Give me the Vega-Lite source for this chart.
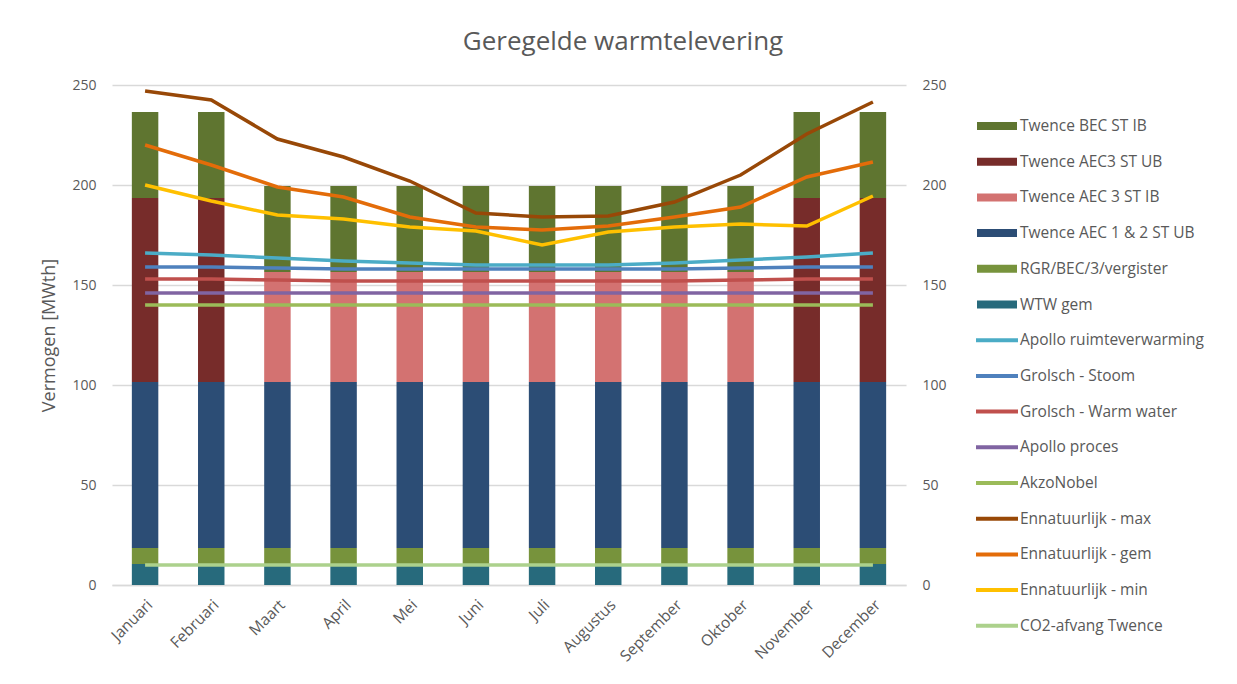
{
  "$schema": "https://vega.github.io/schema/vega-lite/v6.json",
  "width": 794,
  "height": 500,
  "autosize": "none",
  "padding": {"left": 112, "top": 85, "right": 331, "bottom": 99},
  "background": "white",
  "title": {
    "text": "Geregelde warmtelevering",
    "anchor": "middle",
    "dx": 114,
    "offset": 23,
    "font": "Open Sans",
    "fontSize": 26,
    "fontWeight": "normal",
    "color": "#595959"
  },
  "datasets": {
    "bars": [
      {"maand": "Januari", "series": "WTW gem", "waarde": 10.5},
      {"maand": "Januari", "series": "RGR/BEC/3/vergister", "waarde": 8},
      {"maand": "Januari", "series": "Twence AEC 1 & 2 ST UB", "waarde": 83},
      {"maand": "Januari", "series": "Twence AEC3 ST UB", "waarde": 92},
      {"maand": "Januari", "series": "Twence BEC ST IB", "waarde": 43},
      {"maand": "Februari", "series": "WTW gem", "waarde": 10.5},
      {"maand": "Februari", "series": "RGR/BEC/3/vergister", "waarde": 8},
      {"maand": "Februari", "series": "Twence AEC 1 & 2 ST UB", "waarde": 83},
      {"maand": "Februari", "series": "Twence AEC3 ST UB", "waarde": 92},
      {"maand": "Februari", "series": "Twence BEC ST IB", "waarde": 43},
      {"maand": "Maart", "series": "WTW gem", "waarde": 10.5},
      {"maand": "Maart", "series": "RGR/BEC/3/vergister", "waarde": 8},
      {"maand": "Maart", "series": "Twence AEC 1 & 2 ST UB", "waarde": 83},
      {"maand": "Maart", "series": "Twence AEC 3 ST IB", "waarde": 55},
      {"maand": "Maart", "series": "Twence BEC ST IB", "waarde": 43},
      {"maand": "April", "series": "WTW gem", "waarde": 10.5},
      {"maand": "April", "series": "RGR/BEC/3/vergister", "waarde": 8},
      {"maand": "April", "series": "Twence AEC 1 & 2 ST UB", "waarde": 83},
      {"maand": "April", "series": "Twence AEC 3 ST IB", "waarde": 55},
      {"maand": "April", "series": "Twence BEC ST IB", "waarde": 43},
      {"maand": "Mei", "series": "WTW gem", "waarde": 10.5},
      {"maand": "Mei", "series": "RGR/BEC/3/vergister", "waarde": 8},
      {"maand": "Mei", "series": "Twence AEC 1 & 2 ST UB", "waarde": 83},
      {"maand": "Mei", "series": "Twence AEC 3 ST IB", "waarde": 55},
      {"maand": "Mei", "series": "Twence BEC ST IB", "waarde": 43},
      {"maand": "Juni", "series": "WTW gem", "waarde": 10.5},
      {"maand": "Juni", "series": "RGR/BEC/3/vergister", "waarde": 8},
      {"maand": "Juni", "series": "Twence AEC 1 & 2 ST UB", "waarde": 83},
      {"maand": "Juni", "series": "Twence AEC 3 ST IB", "waarde": 55},
      {"maand": "Juni", "series": "Twence BEC ST IB", "waarde": 43},
      {"maand": "Juli", "series": "WTW gem", "waarde": 10.5},
      {"maand": "Juli", "series": "RGR/BEC/3/vergister", "waarde": 8},
      {"maand": "Juli", "series": "Twence AEC 1 & 2 ST UB", "waarde": 83},
      {"maand": "Juli", "series": "Twence AEC 3 ST IB", "waarde": 55},
      {"maand": "Juli", "series": "Twence BEC ST IB", "waarde": 43},
      {"maand": "Augustus", "series": "WTW gem", "waarde": 10.5},
      {"maand": "Augustus", "series": "RGR/BEC/3/vergister", "waarde": 8},
      {"maand": "Augustus", "series": "Twence AEC 1 & 2 ST UB", "waarde": 83},
      {"maand": "Augustus", "series": "Twence AEC 3 ST IB", "waarde": 55},
      {"maand": "Augustus", "series": "Twence BEC ST IB", "waarde": 43},
      {"maand": "September", "series": "WTW gem", "waarde": 10.5},
      {"maand": "September", "series": "RGR/BEC/3/vergister", "waarde": 8},
      {"maand": "September", "series": "Twence AEC 1 & 2 ST UB", "waarde": 83},
      {"maand": "September", "series": "Twence AEC 3 ST IB", "waarde": 55},
      {"maand": "September", "series": "Twence BEC ST IB", "waarde": 43},
      {"maand": "Oktober", "series": "WTW gem", "waarde": 10.5},
      {"maand": "Oktober", "series": "RGR/BEC/3/vergister", "waarde": 8},
      {"maand": "Oktober", "series": "Twence AEC 1 & 2 ST UB", "waarde": 83},
      {"maand": "Oktober", "series": "Twence AEC 3 ST IB", "waarde": 55},
      {"maand": "Oktober", "series": "Twence BEC ST IB", "waarde": 43},
      {"maand": "November", "series": "WTW gem", "waarde": 10.5},
      {"maand": "November", "series": "RGR/BEC/3/vergister", "waarde": 8},
      {"maand": "November", "series": "Twence AEC 1 & 2 ST UB", "waarde": 83},
      {"maand": "November", "series": "Twence AEC3 ST UB", "waarde": 92},
      {"maand": "November", "series": "Twence BEC ST IB", "waarde": 43},
      {"maand": "December", "series": "WTW gem", "waarde": 10.5},
      {"maand": "December", "series": "RGR/BEC/3/vergister", "waarde": 8},
      {"maand": "December", "series": "Twence AEC 1 & 2 ST UB", "waarde": 83},
      {"maand": "December", "series": "Twence AEC3 ST UB", "waarde": 92},
      {"maand": "December", "series": "Twence BEC ST IB", "waarde": 43}
    ],
    "lines": [
      {"maand": "Januari", "series": "Apollo ruimteverwarming", "waarde": 166},
      {"maand": "Februari", "series": "Apollo ruimteverwarming", "waarde": 165},
      {"maand": "Maart", "series": "Apollo ruimteverwarming", "waarde": 163.5},
      {"maand": "April", "series": "Apollo ruimteverwarming", "waarde": 162},
      {"maand": "Mei", "series": "Apollo ruimteverwarming", "waarde": 161},
      {"maand": "Juni", "series": "Apollo ruimteverwarming", "waarde": 160},
      {"maand": "Juli", "series": "Apollo ruimteverwarming", "waarde": 160},
      {"maand": "Augustus", "series": "Apollo ruimteverwarming", "waarde": 160},
      {"maand": "September", "series": "Apollo ruimteverwarming", "waarde": 161},
      {"maand": "Oktober", "series": "Apollo ruimteverwarming", "waarde": 162.5},
      {"maand": "November", "series": "Apollo ruimteverwarming", "waarde": 164},
      {"maand": "December", "series": "Apollo ruimteverwarming", "waarde": 166},
      {"maand": "Januari", "series": "Grolsch - Stoom", "waarde": 159},
      {"maand": "Februari", "series": "Grolsch - Stoom", "waarde": 159},
      {"maand": "Maart", "series": "Grolsch - Stoom", "waarde": 158.5},
      {"maand": "April", "series": "Grolsch - Stoom", "waarde": 158},
      {"maand": "Mei", "series": "Grolsch - Stoom", "waarde": 158},
      {"maand": "Juni", "series": "Grolsch - Stoom", "waarde": 158},
      {"maand": "Juli", "series": "Grolsch - Stoom", "waarde": 158},
      {"maand": "Augustus", "series": "Grolsch - Stoom", "waarde": 158},
      {"maand": "September", "series": "Grolsch - Stoom", "waarde": 158},
      {"maand": "Oktober", "series": "Grolsch - Stoom", "waarde": 158.5},
      {"maand": "November", "series": "Grolsch - Stoom", "waarde": 159},
      {"maand": "December", "series": "Grolsch - Stoom", "waarde": 159},
      {"maand": "Januari", "series": "Grolsch - Warm water", "waarde": 153},
      {"maand": "Februari", "series": "Grolsch - Warm water", "waarde": 153},
      {"maand": "Maart", "series": "Grolsch - Warm water", "waarde": 152.5},
      {"maand": "April", "series": "Grolsch - Warm water", "waarde": 152},
      {"maand": "Mei", "series": "Grolsch - Warm water", "waarde": 152},
      {"maand": "Juni", "series": "Grolsch - Warm water", "waarde": 152},
      {"maand": "Juli", "series": "Grolsch - Warm water", "waarde": 152},
      {"maand": "Augustus", "series": "Grolsch - Warm water", "waarde": 152},
      {"maand": "September", "series": "Grolsch - Warm water", "waarde": 152},
      {"maand": "Oktober", "series": "Grolsch - Warm water", "waarde": 152.5},
      {"maand": "November", "series": "Grolsch - Warm water", "waarde": 153},
      {"maand": "December", "series": "Grolsch - Warm water", "waarde": 153},
      {"maand": "Januari", "series": "Apollo proces", "waarde": 146},
      {"maand": "Februari", "series": "Apollo proces", "waarde": 146},
      {"maand": "Maart", "series": "Apollo proces", "waarde": 146},
      {"maand": "April", "series": "Apollo proces", "waarde": 146},
      {"maand": "Mei", "series": "Apollo proces", "waarde": 146},
      {"maand": "Juni", "series": "Apollo proces", "waarde": 146},
      {"maand": "Juli", "series": "Apollo proces", "waarde": 146},
      {"maand": "Augustus", "series": "Apollo proces", "waarde": 146},
      {"maand": "September", "series": "Apollo proces", "waarde": 146},
      {"maand": "Oktober", "series": "Apollo proces", "waarde": 146},
      {"maand": "November", "series": "Apollo proces", "waarde": 146},
      {"maand": "December", "series": "Apollo proces", "waarde": 146},
      {"maand": "Januari", "series": "AkzoNobel", "waarde": 140},
      {"maand": "Februari", "series": "AkzoNobel", "waarde": 140},
      {"maand": "Maart", "series": "AkzoNobel", "waarde": 140},
      {"maand": "April", "series": "AkzoNobel", "waarde": 140},
      {"maand": "Mei", "series": "AkzoNobel", "waarde": 140},
      {"maand": "Juni", "series": "AkzoNobel", "waarde": 140},
      {"maand": "Juli", "series": "AkzoNobel", "waarde": 140},
      {"maand": "Augustus", "series": "AkzoNobel", "waarde": 140},
      {"maand": "September", "series": "AkzoNobel", "waarde": 140},
      {"maand": "Oktober", "series": "AkzoNobel", "waarde": 140},
      {"maand": "November", "series": "AkzoNobel", "waarde": 140},
      {"maand": "December", "series": "AkzoNobel", "waarde": 140},
      {"maand": "Januari", "series": "Ennatuurlijk - max", "waarde": 247},
      {"maand": "Februari", "series": "Ennatuurlijk - max", "waarde": 242.5},
      {"maand": "Maart", "series": "Ennatuurlijk - max", "waarde": 223},
      {"maand": "April", "series": "Ennatuurlijk - max", "waarde": 214},
      {"maand": "Mei", "series": "Ennatuurlijk - max", "waarde": 202},
      {"maand": "Juni", "series": "Ennatuurlijk - max", "waarde": 186},
      {"maand": "Juli", "series": "Ennatuurlijk - max", "waarde": 184},
      {"maand": "Augustus", "series": "Ennatuurlijk - max", "waarde": 184.5},
      {"maand": "September", "series": "Ennatuurlijk - max", "waarde": 191.5},
      {"maand": "Oktober", "series": "Ennatuurlijk - max", "waarde": 205},
      {"maand": "November", "series": "Ennatuurlijk - max", "waarde": 225.5},
      {"maand": "December", "series": "Ennatuurlijk - max", "waarde": 241.5},
      {"maand": "Januari", "series": "Ennatuurlijk - gem", "waarde": 220},
      {"maand": "Februari", "series": "Ennatuurlijk - gem", "waarde": 210},
      {"maand": "Maart", "series": "Ennatuurlijk - gem", "waarde": 199},
      {"maand": "April", "series": "Ennatuurlijk - gem", "waarde": 194},
      {"maand": "Mei", "series": "Ennatuurlijk - gem", "waarde": 184},
      {"maand": "Juni", "series": "Ennatuurlijk - gem", "waarde": 179},
      {"maand": "Juli", "series": "Ennatuurlijk - gem", "waarde": 177.5},
      {"maand": "Augustus", "series": "Ennatuurlijk - gem", "waarde": 179.5},
      {"maand": "September", "series": "Ennatuurlijk - gem", "waarde": 184},
      {"maand": "Oktober", "series": "Ennatuurlijk - gem", "waarde": 189},
      {"maand": "November", "series": "Ennatuurlijk - gem", "waarde": 204},
      {"maand": "December", "series": "Ennatuurlijk - gem", "waarde": 211.5},
      {"maand": "Januari", "series": "Ennatuurlijk - min", "waarde": 200},
      {"maand": "Februari", "series": "Ennatuurlijk - min", "waarde": 192},
      {"maand": "Maart", "series": "Ennatuurlijk - min", "waarde": 185},
      {"maand": "April", "series": "Ennatuurlijk - min", "waarde": 183},
      {"maand": "Mei", "series": "Ennatuurlijk - min", "waarde": 179},
      {"maand": "Juni", "series": "Ennatuurlijk - min", "waarde": 177},
      {"maand": "Juli", "series": "Ennatuurlijk - min", "waarde": 170},
      {"maand": "Augustus", "series": "Ennatuurlijk - min", "waarde": 176.5},
      {"maand": "September", "series": "Ennatuurlijk - min", "waarde": 179},
      {"maand": "Oktober", "series": "Ennatuurlijk - min", "waarde": 180.5},
      {"maand": "November", "series": "Ennatuurlijk - min", "waarde": 179.5},
      {"maand": "December", "series": "Ennatuurlijk - min", "waarde": 194.5},
      {"maand": "Januari", "series": "CO2-afvang Twence", "waarde": 10},
      {"maand": "Februari", "series": "CO2-afvang Twence", "waarde": 10},
      {"maand": "Maart", "series": "CO2-afvang Twence", "waarde": 10},
      {"maand": "April", "series": "CO2-afvang Twence", "waarde": 10},
      {"maand": "Mei", "series": "CO2-afvang Twence", "waarde": 10},
      {"maand": "Juni", "series": "CO2-afvang Twence", "waarde": 10},
      {"maand": "Juli", "series": "CO2-afvang Twence", "waarde": 10},
      {"maand": "Augustus", "series": "CO2-afvang Twence", "waarde": 10},
      {"maand": "September", "series": "CO2-afvang Twence", "waarde": 10},
      {"maand": "Oktober", "series": "CO2-afvang Twence", "waarde": 10},
      {"maand": "November", "series": "CO2-afvang Twence", "waarde": 10},
      {"maand": "December", "series": "CO2-afvang Twence", "waarde": 10}
    ]
  },
  "encoding": {
    "x": {
      "field": "maand",
      "type": "nominal",
      "sort": ["Januari", "Februari", "Maart", "April", "Mei", "Juni", "Juli", "Augustus", "September", "Oktober", "November", "December"],
      "scale": {"paddingInner": 0.6, "paddingOuter": 0.3},
      "axis": {
        "title": null,
        "labelAngle": -45,
        "labelFont": "Open Sans",
        "labelFontSize": 15.5,
        "labelColor": "#595959",
        "labelPadding": 12,
        "ticks": false,
        "domainColor": "#d9d9d9",
        "domainWidth": 1.5,
        "grid": false
      }
    },
    "color": {
      "field": "series",
      "type": "nominal",
      "scale": {
        "domain": ["Twence BEC ST IB", "Twence AEC3 ST UB", "Twence AEC 3 ST IB", "Twence AEC 1 & 2 ST UB", "RGR/BEC/3/vergister", "WTW gem", "Apollo ruimteverwarming", "Grolsch - Stoom", "Grolsch - Warm water", "Apollo proces", "AkzoNobel", "Ennatuurlijk - max", "Ennatuurlijk - gem", "Ennatuurlijk - min", "CO2-afvang Twence"],
        "range": ["#5f7530", "#772c2a", "#d37271", "#2c4d75", "#77933c", "#276a7c", "#4bacc6", "#4f81bd", "#c0504d", "#8064a2", "#9bbb59", "#984807", "#e36c09", "#ffc000", "#acd18c"]
      },
      "legend": {
        "title": null,
        "orient": "none",
        "legendX": 863,
        "legendY": 19,
        "labelFont": "Open Sans",
        "labelFontSize": 15.5,
        "labelColor": "#595959",
        "labelOffset": 1,
        "labelLimit": 300,
        "rowPadding": 3.7,
        "symbolSize": 1600,
        "symbolStrokeWidth": 4,
        "padding": 0,
        "encode": {
          "symbols": {
            "update": {
              "shape": {"signal": "indexof(['Twence BEC ST IB','Twence AEC3 ST UB','Twence AEC 3 ST IB','Twence AEC 1 & 2 ST UB','RGR/BEC/3/vergister','WTW gem'], datum.value) >= 0 ? 'M-0.9,-0.1H0.9V0.1H-0.9Z' : 'M0,-0.1M0,0.1M-1.05,0H1.05'"},
              "fill": {"signal": "scale('color', datum.value)"},
              "stroke": {"signal": "scale('color', datum.value)"},
              "strokeWidth": {"value": 4},
              "opacity": {"value": 1}
            }
          }
        }
      }
    }
  },
  "layer": [
    {
      "data": {"name": "bars"},
      "transform": [
        {"calculate": "indexof(['WTW gem','RGR/BEC/3/vergister','Twence AEC 1 & 2 ST UB','Twence AEC 3 ST IB','Twence AEC3 ST UB','Twence BEC ST IB'], datum.series)", "as": "stapel"}
      ],
      "mark": {"type": "bar"},
      "encoding": {
        "y": {
          "field": "waarde",
          "type": "quantitative",
          "stack": "zero",
          "scale": {"domain": [0, 250], "nice": false},
          "axis": {
            "title": "Vermogen [MWth]",
            "titleFont": "Open Sans",
            "titleFontSize": 18,
            "titleFontWeight": "normal",
            "titleColor": "#595959",
            "titlePadding": 13,
            "values": [0, 50, 100, 150, 200, 250],
            "labelFont": "Open Sans",
            "labelFontSize": 14,
            "labelColor": "#595959",
            "labelPadding": 16,
            "ticks": false,
            "domain": false,
            "grid": true,
            "gridColor": "#d9d9d9",
            "gridWidth": 1.5
          }
        },
        "order": {"field": "stapel", "type": "quantitative"}
      }
    },
    {
      "data": {"name": "lines"},
      "mark": {"type": "line", "strokeWidth": 3.5, "interpolate": "linear"},
      "encoding": {
        "y": {
          "field": "waarde",
          "type": "quantitative",
          "axis": {
            "orient": "right",
            "title": null,
            "values": [0, 50, 100, 150, 200, 250],
            "labelFont": "Open Sans",
            "labelFontSize": 14,
            "labelColor": "#595959",
            "labelPadding": 16,
            "ticks": false,
            "domain": false,
            "grid": false
          }
        }
      }
    }
  ],
  "resolve": {"axis": {"y": "independent"}},
  "config": {"view": {"stroke": null}}
}
